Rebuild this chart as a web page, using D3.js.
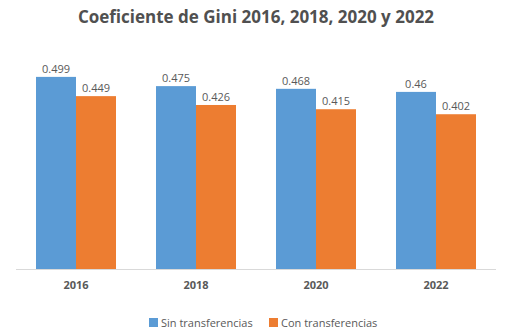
<!DOCTYPE html>
<html>
<head>
<meta charset="utf-8">
<script src="https://cdn.jsdelivr.net/npm/d3@7"></script>
<style>
  body { margin: 0; background: #fff; }
  svg { display: block; font-family: "Open Sans", sans-serif; }
</style>
</head>
<body>
<svg id="chart" width="512" height="335"></svg>
<script>
const years = ["2016", "2018", "2020", "2022"];
const seriesNames = ["Sin transferencias", "Con transferencias"];
const sinTransferencias = [0.499, 0.475, 0.468, 0.46];
const conTransferencias = [0.449, 0.426, 0.415, 0.402];
const labelText = ["0.499", "0.475", "0.468", "0.46", "0.449", "0.426", "0.415", "0.402"];
const colors = ["#5b9bd5", "#ed7d31"];

const svg = d3.select("#chart");
const textColor = "#595959";

const x0 = d3.scaleBand().domain(years).range([16, 496]).paddingInner(1 / 3).paddingOuter(1 / 6);
const x1 = d3.scaleBand().domain(seriesNames).range([0, x0.bandwidth()]);
const y = d3.scaleLinear().domain([0, 0.6]).range([269, 38]);

const rows = years.map((yr, i) => ({
    year: yr,
    values: [
        {name: seriesNames[0], value: sinTransferencias[i], label: labelText[i]},
        {name: seriesNames[1], value: conTransferencias[i], label: labelText[i + 4]}
    ]
}));

svg.append("text")
    .attr("x", 256)
    .attr("y", 23)
    .attr("text-anchor", "middle")
    .attr("font-size", 17)
    .attr("font-weight", "bold")
    .attr("fill", "#505050")
    .text("Coeficiente de Gini 2016, 2018, 2020 y 2022");

const groups = svg.selectAll("g.year")
    .data(rows)
    .enter().append("g")
    .attr("class", "year")
    .attr("transform", d => "translate(" + x0(d.year) + ",0)");

groups.selectAll("rect")
    .data(d => d.values)
    .enter().append("rect")
    .attr("x", d => x1(d.name))
    .attr("y", d => y(d.value))
    .attr("width", x1.bandwidth())
    .attr("height", d => y(0) - y(d.value))
    .attr("fill", (d, i) => colors[i]);

groups.selectAll("text")
    .data(d => d.values)
    .enter().append("text")
    .attr("x", d => x1(d.name) + x1.bandwidth() / 2)
    .attr("y", d => y(d.value) - 4)
    .attr("text-anchor", "middle")
    .attr("font-size", 11)
    .attr("fill", textColor)
    .text(d => d.label);

// x axis
const xAxis = svg.append("g")
    .attr("transform", "translate(0," + y(0) + ")")
    .call(d3.axisBottom(x0).tickSize(0).tickPadding(12));
xAxis.select(".domain").attr("stroke", "#d9d9d9").attr("d", "M16,0.5H496");
xAxis.selectAll("text")
    .attr("font-family", "Open Sans, sans-serif")
    .attr("font-size", 11)
    .attr("font-weight", "bold")
    .attr("fill", textColor);

// legend
const legend = svg.append("g").attr("transform", "translate(0,318)");
const legendX = [149, 269];
seriesNames.forEach((name, i) => {
    legend.append("rect")
        .attr("x", legendX[i])
        .attr("y", 0)
        .attr("width", 9)
        .attr("height", 9)
        .attr("fill", colors[i]);
    legend.append("text")
        .attr("x", legendX[i] + 12)
        .attr("y", 8.5)
        .attr("font-size", 11)
        .attr("fill", textColor)
        .text(name);
});
</script>
</body>
</html>
